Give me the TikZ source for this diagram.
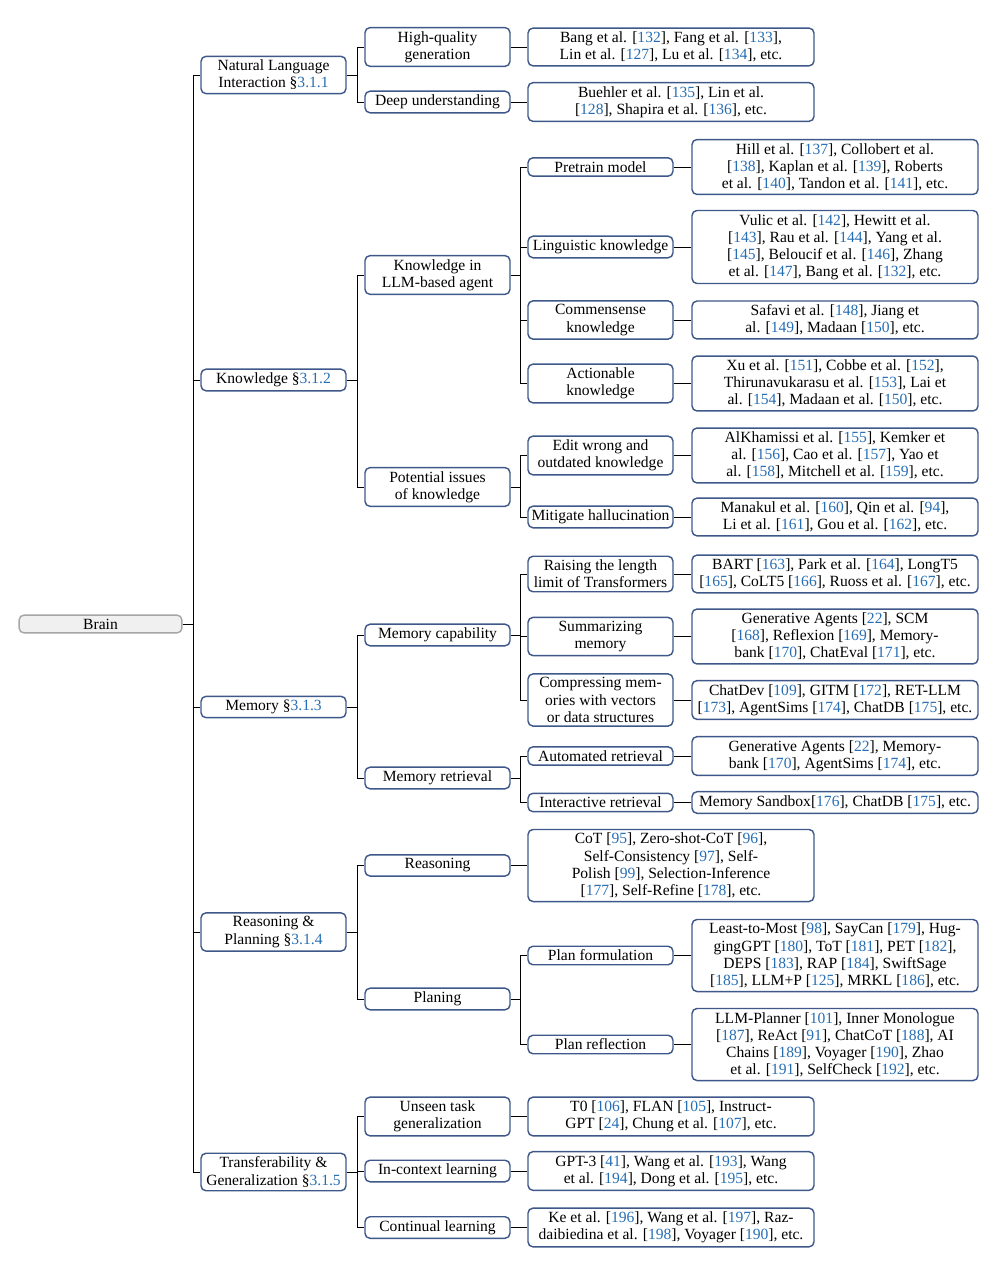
\documentclass[tikz,border=0pt]{standalone}
\usepackage{fontspec}
\setmainfont{Liberation Serif}
\definecolor{boxblue}{RGB}{62,88,138}
\definecolor{refblue}{RGB}{38,110,180}
\newcommand{\rf}[1]{[\textcolor{refblue}{#1}]}
\newcommand{\sect}[1]{\S\textcolor{refblue}{#1}}

\begin{document}
\begin{tikzpicture}[x=0.7pt,y=-0.7pt,
  box/.style={draw=boxblue,line width=1pt,rounded corners=3.5pt,fill=white,align=center,
    inner xsep=2pt,inner ysep=2.6pt,font=\fontsize{10.9}{12}\selectfont},
  lvl/.style={box,minimum width=101.5pt},
  leaf/.style={box,minimum width=200.2pt},
  root/.style={box,draw=gray!70,fill=gray!12,minimum width=114pt},
  link/.style={line width=0.65pt}]
  \useasboundingbox (0,0) rectangle (992,1270);
  % raiz
  \node[root] (brain) at (100.5,624) {Brain};
  % nivel 1
  \node[lvl] (nli) at (273.5,75) {Natural Language\\Interaction \sect{3.1.1}};
  \node[lvl] (know) at (273.5,380) {Knowledge \sect{3.1.2}};
  \node[lvl] (mem) at (273.5,707) {Memory \sect{3.1.3}};
  \node[lvl] (rp) at (273.5,932) {Reasoning \&\\Planning \sect{3.1.4}};
  \node[lvl] (tg) at (273.5,1172) {Transferability \&\\Generalization \sect{3.1.5}};
  % nivel 2
  \node[lvl] (hq) at (437.5,47) {High-quality\\generation};
  \node[lvl] (du) at (437.5,102) {Deep understanding};
  \node[lvl] (kin) at (437.5,275) {Knowledge in\\LLM-based agent};
  \node[lvl] (piss) at (437.5,487) {Potential issues\\of knowledge};
  \node[lvl] (mcap) at (437.5,635) {Memory capability};
  \node[lvl] (mret) at (437.5,778) {Memory retrieval};
  \node[lvl] (reas) at (437.5,865.5) {Reasoning};
  \node[lvl] (plan) at (437.5,999) {Planing};
  \node[lvl] (unseen) at (437.5,1116.5) {Unseen task\\generalization};
  \node[lvl] (icl) at (437.5,1171) {In-context learning};
  \node[lvl] (cl) at (437.5,1227.5) {Continual learning};
  % nivel 3
  \node[lvl] (pre) at (600.5,167) {Pretrain model};
  \node[lvl] (ling) at (600.5,247) {Linguistic knowledge};
  \node[lvl] (comm) at (600.5,320) {Commensense\\knowledge};
  \node[lvl] (act) at (600.5,383.5) {Actionable\\knowledge};
  \node[lvl] (edit) at (600.5,455.5) {Edit wrong and\\outdated knowledge};
  \node[lvl] (hall) at (600.5,517) {Mitigate hallucination};
  \node[lvl] (rais) at (600.5,574) {Raising the length\\limit of Transformers};
  \node[lvl] (summ) at (600.5,636.5) {Summarizing\\memory};
  \node[lvl] (comp) at (600.5,700) {Compressing mem-\\ories with vectors\\or data structures};
  \node[lvl] (auto) at (600.5,756) {Automated retrieval};
  \node[lvl] (inter) at (600.5,802.5) {Interactive retrieval};
  \node[lvl] (pform) at (600.5,955.5) {Plan formulation};
  \node[lvl] (prefl) at (600.5,1044.5) {Plan reflection};
  % trabajos (columna media)
  \node[leaf] (bang) at (671,47) {Bang et al. \rf{132}, Fang et al. \rf{133},\\Lin et al. \rf{127}, Lu et al. \rf{134}, etc.};
  \node[leaf] (bueh) at (671,102) {Buehler et al. \rf{135}, Lin et al.\\\rf{128}, Shapira et al. \rf{136}, etc.};
  \node[leaf] (cot) at (671,865.5) {CoT \rf{95}, Zero-shot-CoT \rf{96},\\Self-Consistency \rf{97}, Self-\\Polish \rf{99}, Selection-Inference\\\rf{177}, Self-Refine \rf{178}, etc.};
  \node[leaf] (tzero) at (671,1116.5) {T0 \rf{106}, FLAN \rf{105}, Instruct-\\GPT \rf{24}, Chung et al. \rf{107}, etc.};
  \node[leaf] (gpt) at (671,1171) {GPT-3 \rf{41}, Wang et al. \rf{193}, Wang\\et al. \rf{194}, Dong et al. \rf{195}, etc.};
  \node[leaf] (ke) at (671,1227.5) {Ke et al. \rf{196}, Wang et al. \rf{197}, Raz-\\daibiedina et al. \rf{198}, Voyager \rf{190}, etc.};
  % trabajos (columna derecha)
  \node[leaf] (hill) at (835,167) {Hill et al. \rf{137}, Collobert et al.\\\rf{138}, Kaplan et al. \rf{139}, Roberts\\et al. \rf{140}, Tandon et al. \rf{141}, etc.};
  \node[leaf] (vulic) at (835,247) {Vulic et al. \rf{142}, Hewitt et al.\\\rf{143}, Rau et al. \rf{144}, Yang et al.\\\rf{145}, Beloucif et al. \rf{146}, Zhang\\et al. \rf{147}, Bang et al. \rf{132}, etc.};
  \node[leaf] (safavi) at (835,320) {Safavi et al. \rf{148}, Jiang et\\al. \rf{149}, Madaan \rf{150}, etc.};
  \node[leaf] (xu) at (835,383.5) {Xu et al. \rf{151}, Cobbe et al. \rf{152},\\Thirunavukarasu et al. \rf{153}, Lai et\\al. \rf{154}, Madaan et al. \rf{150}, etc.};
  \node[leaf] (alkh) at (835,455.5) {AlKhamissi et al. \rf{155}, Kemker et\\al. \rf{156}, Cao et al. \rf{157}, Yao et\\al. \rf{158}, Mitchell et al. \rf{159}, etc.};
  \node[leaf] (mana) at (835,517) {Manakul et al. \rf{160}, Qin et al. \rf{94},\\Li et al. \rf{161}, Gou et al. \rf{162}, etc.};
  \node[leaf] (bart) at (835,574) {BART \rf{163}, Park et al. \rf{164}, LongT5\\\rf{165}, CoLT5 \rf{166}, Ruoss et al. \rf{167}, etc.};
  \node[leaf] (genag) at (835,636.5) {Generative Agents \rf{22}, SCM\\\rf{168}, Reflexion \rf{169}, Memory-\\bank \rf{170}, ChatEval \rf{171}, etc.};
  \node[leaf] (chatdev) at (835,700) {ChatDev \rf{109}, GITM \rf{172}, RET-LLM\\\rf{173}, AgentSims \rf{174}, ChatDB \rf{175}, etc.};
  \node[leaf] (genagb) at (835,756) {Generative Agents \rf{22}, Memory-\\bank \rf{170}, AgentSims \rf{174}, etc.};
  \node[leaf] (sandbox) at (835,802.5) {Memory Sandbox\rf{176}, ChatDB \rf{175}, etc.};
  \node[leaf] (least) at (835,955.5) {Least-to-Most \rf{98}, SayCan \rf{179}, Hug-\\gingGPT \rf{180}, ToT \rf{181}, PET \rf{182},\\DEPS \rf{183}, RAP \rf{184}, SwiftSage\\\rf{185}, LLM+P \rf{125}, MRKL \rf{186}, etc.};
  \node[leaf] (llmp) at (835,1044.5) {LLM-Planner \rf{101}, Inner Monologue\\\rf{187}, ReAct \rf{91}, ChatCoT \rf{188}, AI\\Chains \rf{189}, Voyager \rf{190}, Zhao\\et al. \rf{191}, SelfCheck \rf{192}, etc.};
  % ramas
  \draw[link] (brain.east) -- ++(11,0) |- (nli.west) (brain.east) -- ++(11,0) |- (know.west)
    (brain.east) -- ++(11,0) |- (mem.west) (brain.east) -- ++(11,0) |- (rp.west)
    (brain.east) -- ++(11,0) |- (tg.west);
  \draw[link] (nli.east) -- ++(11,0) |- (hq.west) (nli.east) -- ++(11,0) |- (du.west);
  \draw[link] (know.east) -- ++(11,0) |- (kin.west) (know.east) -- ++(11,0) |- (piss.west);
  \draw[link] (mem.east) -- ++(11,0) |- (mcap.west) (mem.east) -- ++(11,0) |- (mret.west);
  \draw[link] (rp.east) -- ++(11,0) |- (reas.west) (rp.east) -- ++(11,0) |- (plan.west);
  \draw[link] (tg.east) -- ++(11,0) |- (unseen.west) (tg.east) -- ++(11,0) |- (icl.west)
    (tg.east) -- ++(11,0) |- (cl.west);
  \draw[link] (kin.east) -- ++(10,0) |- (pre.west) (kin.east) -- ++(10,0) |- (ling.west)
    (kin.east) -- ++(10,0) |- (comm.west) (kin.east) -- ++(10,0) |- (act.west);
  \draw[link] (piss.east) -- ++(10,0) |- (edit.west) (piss.east) -- ++(10,0) |- (hall.west);
  \draw[link] (mcap.east) -- ++(10,0) |- (rais.west) (mcap.east) -- ++(10,0) |- (summ.west)
    (mcap.east) -- ++(10,0) |- (comp.west);
  \draw[link] (mret.east) -- ++(10,0) |- (auto.west) (mret.east) -- ++(10,0) |- (inter.west);
  \draw[link] (plan.east) -- ++(10,0) |- (pform.west) (plan.east) -- ++(10,0) |- (prefl.west);
  % hojas
  \draw[link] (hq.east) -- (bang.west) (du.east) -- (bueh.west) (reas.east) -- (cot.west)
    (unseen.east) -- (tzero.west) (icl.east) -- (gpt.west) (cl.east) -- (ke.west);
  \draw[link] (pre.east) -- (hill.west) (ling.east) -- (vulic.west) (comm.east) -- (safavi.west)
    (act.east) -- (xu.west) (edit.east) -- (alkh.west) (hall.east) -- (mana.west);
  \draw[link] (rais.east) -- (bart.west) (summ.east) -- (genag.west) (comp.east) -- (chatdev.west)
    (auto.east) -- (genagb.west) (inter.east) -- (sandbox.west) (pform.east) -- (least.west)
    (prefl.east) -- (llmp.west);
\end{tikzpicture}
\end{document}
